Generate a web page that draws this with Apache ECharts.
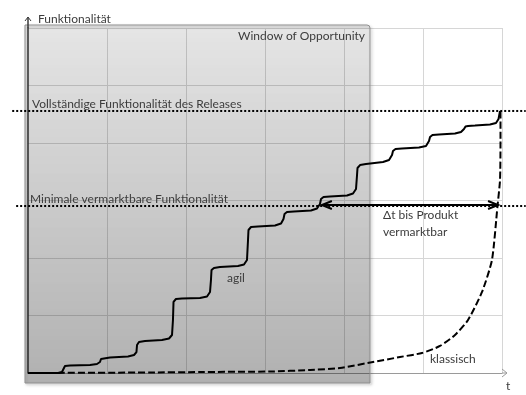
<!DOCTYPE html>
<html><head><meta charset="utf-8">
<script src="https://cdn.jsdelivr.net/npm/echarts@6/dist/echarts.min.js"></script>
<style>html,body{margin:0;padding:0;background:#fff}#c{width:526px;height:395px}</style>
</head><body><div id="c"></div><script>
// ---- data (x: time units, y: functionality units) ----
const agil = [
  [0,0],[0.380,0],[0.430,0.017],[0.449,0.070],[0.468,0.122],
  [0.532,0.130],[0.785,0.139],[0.873,0.157],[0.911,0.191],[0.924,0.243],[0.949,0.261],
  [1.038,0.270],[1.266,0.287],[1.342,0.313],[1.373,0.365],[1.380,0.487],[1.405,0.539],
  [1.481,0.557],[1.696,0.574],[1.785,0.600],[1.823,0.661],[1.835,0.922],[1.842,1.235],[1.873,1.287],
  [1.949,1.296],[2.177,1.304],[2.266,1.330],[2.304,1.409],[2.316,1.617],[2.323,1.791],[2.354,1.826],
  [2.430,1.843],[2.658,1.861],[2.734,1.887],[2.772,1.965],[2.785,2.313],[2.791,2.487],[2.823,2.539],
  [2.911,2.548],[3.127,2.565],[3.203,2.600],[3.234,2.678],[3.247,2.765],[3.278,2.800],
  [3.367,2.809],[3.582,2.826],[3.658,2.861],[3.696,2.939],[3.709,3.026],[3.741,3.061],
  [3.823,3.070],[4.038,3.087],[4.114,3.122],[4.152,3.200],[4.165,3.443],[4.171,3.565],[4.203,3.617],
  [4.278,3.635],[4.494,3.670],[4.570,3.704],[4.608,3.791],[4.620,3.861],[4.652,3.896],
  [4.734,3.904],[4.949,3.922],[5.038,3.948],[5.076,4.035],[5.089,4.104],[5.120,4.139],
  [5.203,4.148],[5.405,4.165],[5.481,4.191],[5.519,4.243],[5.538,4.287],[5.570,4.296],
  [5.658,4.304],[5.848,4.322],[5.924,4.348],[5.956,4.417],[5.975,4.557]
];
const klassisch = [
  [0,0],[1.544,0.009],[2.177,0.017],[3.063,0.026],[3.570,0.052],[3.949,0.087],
  [4.367,0.191],[4.709,0.278],[4.987,0.348],[5.215,0.470],[5.405,0.661],[5.570,0.922],
  [5.747,1.409],[5.873,1.965],[5.943,2.904],[5.975,3.357],[5.981,4.052],[5.981,4.557]
];
const minimalLevel = 2.904;     // Minimale vermarktbare Funktionalität
const fullLevel = 4.557;        // Vollständige Funktionalität des Releases
const windowX = [-0.038, 4.329];
const windowY = [-0.174, 6.052];
const deltaX = [3.72, 5.95];
const xRange = [0, 6];
const yRange = [0, 6];
const lineExtentX = [-0.20, -0.15, 6.30];

const FONT = 'Lato, "Open Sans", sans-serif';
const TXT = '#3c3c3c';

const chart = echarts.init(document.getElementById('c'), null, {renderer:'canvas'});
chart.setOption({
  animation:false,
  grid:{left:28,right:24,top:28,bottom:22},
  xAxis:{type:'value',min:xRange[0],max:xRange[1],interval:1,
    axisLine:{show:true,onZero:false,lineStyle:{color:'#9a9a9a',width:1}},
    axisTick:{show:false},axisLabel:{show:false},
    splitLine:{show:true,showMinLine:false,lineStyle:{color:'#d6d6d6',width:1}}},
  yAxis:{type:'value',min:yRange[0],max:yRange[1],interval:1,
    axisLine:{show:true,onZero:false,lineStyle:{color:'#3a3a3a',width:1.5}},
    axisTick:{show:false},axisLabel:{show:false},
    splitLine:{show:true,showMinLine:false,lineStyle:{color:'#d6d6d6',width:1}}},
  series:[
    {type:'line',name:'klassisch',data:klassisch,symbol:'none',smooth:0.2,z:4,
     lineStyle:{color:'#000',width:2,type:[7,3]}},
    {type:'line',name:'agil',data:agil,symbol:'none',z:5,
     lineStyle:{color:'#000',width:2}}
  ]
});

const P = (x,y) => chart.convertToPixel({gridIndex:0},[x,y]);
const w0 = P(windowX[0], windowY[1]), w1 = P(windowX[1], windowY[0]);
const origin = P(0,0), yTop = P(0,yRange[1]), xEnd = P(xRange[1],0);
const fullL = P(lineExtentX[0], fullLevel), fullR = P(lineExtentX[2], fullLevel);
const minL = P(lineExtentX[1], minimalLevel), minR = P(lineExtentX[2], minimalLevel);
const dA = P(deltaX[0], minimalLevel), dB = P(deltaX[1], minimalLevel);

function text(t, x, y, align){
  return {type:'text', z:20, style:{text:t, x:x, y:y, fill:TXT, font:'12px '+FONT,
    textAlign:align||'left', textVerticalAlign:'middle'}};
}
const ytip = yTop[1]-11, xtip = xEnd[0]+5;
chart.setOption({graphic:[
  {type:'rect', z:1, shape:{x:w0[0], y:w0[1], width:w1[0]-w0[0], height:w1[1]-w0[1], r:[0,3,0,0]},
   style:{fill:new echarts.graphic.LinearGradient(0,0,0,1,[
     {offset:0,color:'rgba(0,0,0,0.08)'},{offset:1,color:'rgba(0,0,0,0.25)'}]),
     stroke:'#8f8f8f', lineWidth:1, shadowBlur:3, shadowOffsetX:1.5, shadowOffsetY:1.5,
     shadowColor:'rgba(0,0,0,0.3)'}},
  // axis extensions with open arrowheads
  {type:'line', z:6, shape:{x1:origin[0], y1:yTop[1], x2:origin[0], y2:ytip}, style:{stroke:'#3a3a3a', lineWidth:1.5}},
  {type:'polyline', z:6, shape:{points:[[origin[0]-3,ytip+4],[origin[0],ytip],[origin[0]+3,ytip+4]]}, style:{stroke:'#3a3a3a', lineWidth:1, fill:null}},
  {type:'line', z:6, shape:{x1:xEnd[0], y1:origin[1], x2:xtip, y2:origin[1]}, style:{stroke:'#9a9a9a', lineWidth:1}},
  {type:'polyline', z:6, shape:{points:[[xtip-5,origin[1]-4],[xtip,origin[1]],[xtip-5,origin[1]+4]]}, style:{stroke:'#9a9a9a', lineWidth:1, fill:null}},
  // dotted reference levels
  {type:'line', z:7, shape:{x1:fullL[0], y1:fullL[1], x2:fullR[0], y2:fullR[1]}, style:{stroke:'#000', lineWidth:2, lineDash:[2,2]}},
  {type:'line', z:7, shape:{x1:minL[0], y1:minL[1], x2:minR[0], y2:minR[1]}, style:{stroke:'#000', lineWidth:2, lineDash:[2,2]}},
  // delta-t double arrow
  {type:'line', z:8, shape:{x1:dA[0], y1:dA[1]-1, x2:dB[0], y2:dB[1]-1}, style:{stroke:'#000', lineWidth:2}},
  {type:'polyline', z:8, shape:{points:[[dA[0]+10,dA[1]-5],[dA[0],dA[1]-1],[dA[0]+10,dA[1]+3]]}, style:{stroke:'#000', lineWidth:2, fill:null}},
  {type:'polyline', z:8, shape:{points:[[dB[0]-10,dB[1]-5],[dB[0],dB[1]-1],[dB[0]-10,dB[1]+3]]}, style:{stroke:'#000', lineWidth:2, fill:null}},
  text('Funktionalität', 38, 19),
  text('Window of Opportunity', 365, 36, 'right'),
  text('Vollständige Funktionalität des Releases', 32, 104),
  text('Minimale vermarktbare Funktionalität', 30, 199),
  text('Δt bis Produkt', 383, 215),
  text('vermarktbar', 383, 232),
  text('agil', 227, 278),
  text('klassisch', 430, 359),
  text('t', 506, 386)
]});
</script></body></html>
